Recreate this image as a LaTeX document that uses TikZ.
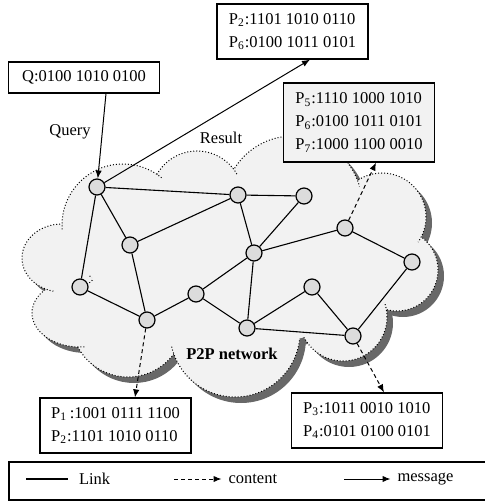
\documentclass[tikz,border=0pt]{standalone}
\usepackage{fontspec}
\setmainfont{Liberation Serif}
\usetikzlibrary{arrows.meta}
\definecolor{CloudFill}{RGB}{242,242,242}
\definecolor{CloudShade}{RGB}{104,104,104}
\definecolor{PeerFill}{RGB}{220,220,220}
\newcommand\cloudparts{397/270/20.5pt/20.5pt, 382/217/22pt/22pt, 293/205/34.5pt/34.5pt, 197/197/23pt/23pt, 343/317/22pt/22pt, 128/320/28.5pt/28.5pt, 80/313/24pt/17pt, 62/258/20pt/17pt, 123/225/30.5pt/30.5pt, 235/332/32.5pt/32.5pt}

\begin{document}
\begin{tikzpicture}[x=0.5pt,y=-0.5pt,
  peer/.style={circle,draw,line width=0.6pt,fill=PeerFill,minimum size=8pt,inner sep=0pt},
  infobox/.style={rectangle,draw,line width=0.6pt,fill=white,minimum width=75.5pt,minimum height=27.5pt,align=left,font=\fontsize{8.25}{11.5}\selectfont},
  lbl/.style={font=\fontsize{8.25}{11.5}\selectfont},
  link/.style={line width=0.55pt},
  msgarrow/.style={-{Latex[length=4pt,width=3.2pt]},line width=0.5pt},
  contarrow/.style={-{Latex[length=4pt,width=3.2pt]},line width=0.5pt,dash pattern=on 2pt off 1.5pt},
  cloudline/.style={line width=0.5pt,densely dotted}
]
  \useasboundingbox (0,0) rectangle (485,502);
  % cloud
  \begin{scope}[shift={(6,6)}]
    \fill[CloudShade] (240,265) ellipse[x radius=75pt,y radius=40pt];
    \foreach \cx/\cy/\rx/\ry in \cloudparts
      \fill[CloudShade] (\cx,\cy) ellipse[x radius=\rx,y radius=\ry];
  \end{scope}
  \fill[CloudFill] (240,265) ellipse[x radius=75pt,y radius=40pt];
  \foreach \cx/\cy/\rx/\ry in \cloudparts
    \fill[CloudFill] (\cx,\cy) ellipse[x radius=\rx,y radius=\ry];
  \foreach \cx/\cy/\rx/\ry [count=\i] in \cloudparts {
    \begin{scope}[even odd rule]
      \clip (-50,-50) rectangle (550,560) (240,265) ellipse[x radius=75pt,y radius=40pt];
      \foreach \dx/\dy/\sx/\sy [count=\j] in \cloudparts {
        \ifnum\j<\i
          \clip (-50,-50) rectangle (550,560) (\dx,\dy) ellipse[x radius=\sx-3pt,y radius=\sy-3pt];
        \else\ifnum\j>\i
          \clip (-50,-50) rectangle (550,560) (\dx,\dy) ellipse[x radius=\sx,y radius=\sy];
        \fi\fi
      }
      \draw[cloudline] (\cx,\cy) ellipse[x radius=\rx,y radius=\ry];
    \end{scope}
  }

  \node[peer] (n1) at (97,187) {};
  \node[peer] (n2) at (238,195) {};
  \node[peer] (n3) at (304,196) {};
  \node[peer] (n4) at (130,245) {};
  \node[peer] (n5) at (254,253) {};
  \node[peer] (n6) at (345,228) {};
  \node[peer] (n7) at (412,262) {};
  \node[peer] (n8) at (80,287) {};
  \node[peer] (n9) at (196,294) {};
  \node[peer] (n10) at (147,320) {};
  \node[peer] (n11) at (312,287) {};
  \node[peer] (n12) at (247,328) {};
  \node[peer] (n13) at (353,336) {};
  \draw[link] (n1)--(n2);
  \draw[link] (n1)--(n4);
  \draw[link] (n1)--(n8);
  \draw[link] (n4)--(n2);
  \draw[link] (n2)--(n5);
  \draw[link] (n3)--(n5);
  \draw[link] (n2)--(n3);
  \draw[link] (n4)--(n10);
  \draw[link] (n8)--(n10);
  \draw[link] (n10)--(n9);
  \draw[link] (n9)--(n5);
  \draw[link] (n9)--(n12);
  \draw[link] (n5)--(n12);
  \draw[link] (n5)--(n6);
  \draw[link] (n6)--(n7);
  \draw[link] (n12)--(n11);
  \draw[link] (n11)--(n13);
  \draw[link] (n12)--(n13);
  \draw[link] (n13)--(n7);

  \node[lbl,font=\fontsize{8.25}{11.5}\selectfont\bfseries] (net) at (232,354) {P2P network};
  \node[infobox,minimum height=15.5pt] (qbox) at (84,77.5) {Q:0100 1010 0100};
  \node[infobox] (res) at (292.5,31.5) {P\textsubscript{2}:1101 1010 0110\\P\textsubscript{6}:0100 1011 0101};
  \node[infobox,fill=CloudFill,minimum height=39.5pt] (c567) at (359,122.5) {P\textsubscript{5}:1110 1000 1010\\P\textsubscript{6}:0100 1011 0101\\P\textsubscript{7}:1000 1100 0010};
  \node[infobox] (c12) at (115.5,425.5) {P\textsubscript{1}\,:1001 0111 1100\\P\textsubscript{2}:1101 1010 0110};
  \node[infobox] (c34) at (367,420.5) {P\textsubscript{3}:1011 0010 1010\\P\textsubscript{4}:0101 0100 0101};
  \node[lbl] (qlbl) at (70,132) {Query};
  \node[lbl] (rlbl) at (221,138) {Result};

  \draw[msgarrow] ([xshift=11pt]qbox.south)--(n1);
  \draw[msgarrow] (n1)--([xshift=8.75pt]res.south);
  \draw[contarrow] (n6)--([xshift=8.5pt]c567.south);
  \draw[contarrow] (n10)--([xshift=9.75pt]c12.north);
  \draw[contarrow] (n13)--([xshift=8.5pt]c34.north);

  % legend
  \draw[line width=0.6pt] (485,462)--(9,462)--(9,500)--(485,500);
  \coordinate (lk0) at (26,479);
  \coordinate (ct0) at (174,479);
  \coordinate (ms0) at (344,479);
  \node[lbl,anchor=west] (lk) at (72,479) {Link};
  \node[lbl,anchor=west] (ct) at (221.5,479) {content};
  \node[lbl,anchor=west] (ms) at (390.5,479) {message};
  \draw[link,shorten >=2pt] (lk0)--(lk.west);
  \draw[contarrow] (ct0)--(ct.west);
  \draw[msgarrow] (ms0)--(ms.west);
\end{tikzpicture}
\end{document}
